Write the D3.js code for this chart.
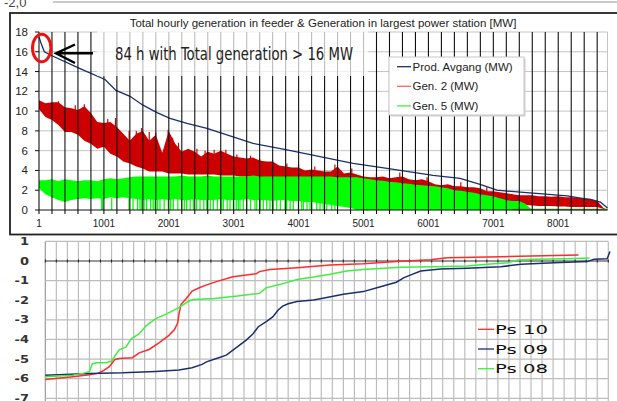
<!DOCTYPE html>
<html>
<head>
<meta charset="utf-8">
<script src="https://cdn.jsdelivr.net/npm/d3@7"></script>
<style>
body { margin: 0; background: #fff; }
svg { display: block; font-family: "Liberation Sans", Arial, sans-serif; }
</style>
</head>
<body>
<div id="chart"></div>
<script>
// ---- Top panel data (100 h bins) ----
const binHours = d3.range(0, 8800, 100).map(h => Math.max(h, 1)).concat([8760]);

const gen2High = [11.1,10.8,10.9,10.9,10.4,10.3,10.1,10.5,9.8,8.9,
  8.8,8.9,8.4,7.7,7.0,7.7,8.0,7.0,7.6,5.8,
  8.0,6.7,5.9,6.2,5.9,5.4,5.9,5.7,6.0,5.7,
  5.4,5.3,5.2,5.3,5.0,4.9,4.9,4.5,4.4,4.3,
  4.3,4.0,4.1,4.0,3.9,3.9,4.4,3.7,3.8,3.6,
  3.4,3.3,3.3,3.4,3.2,3.3,3.4,3.1,3.0,3.1,
  2.9,2.6,2.5,2.6,2.4,2.4,2.3,2.3,2.2,1.9,
  1.9,1.8,1.7,1.6,1.5,1.5,1.5,1.4,1.4,1.35,
  1.4,1.3,1.3,1.25,1.2,1.15,0.9,0.2,0.0];

const gen2Low = [10.2,9.4,9.1,8.6,7.9,7.9,7.6,7.0,6.7,6.2,
  6.4,5.7,5.4,4.9,4.7,4.4,4.2,3.9,3.9,3.9,
  3.7,3.7,3.7,3.6,3.6,3.6,3.6,3.6,3.5,3.5,
  3.5,3.4,3.4,3.4,3.3,3.3,3.3,3.2,3.2,3.1,
  3.1,3.0,3.0,3.0,2.9,2.9,2.8,2.8,2.7,2.7,
  2.6,2.6,2.5,2.5,2.4,2.3,2.0,2.3,2.2,2.1,
  2.0,1.9,1.8,1.7,1.7,1.6,1.5,1.4,1.3,1.1,
  1.0,0.9,0.7,0.6,0.5,0.5,0.45,0.4,0.4,0.4,
  0.35,0.35,0.3,0.3,0.3,0.3,0.3,0.1,0.0];

// single-hour peaks of Gen. 2 standing above the band
const gen2PeakHours = [300,560,700,1060,1180,1390,1500,1583,1700,1800,1990,2060,2150,2434,2560,
  2700,2880,3050,3260,3400,3600,3820,4000,4250,4560,4820,5200,5560,5980,6500,6900];
const gen2PeakValues = [11.0,10.6,10.7,9.2,9.3,8.0,8.0,8.3,7.9,7.8,8.1,7.3,6.8,6.2,6.0,
  6.1,6.1,5.6,5.5,5.2,5.0,4.7,4.6,4.4,4.6,4.2,3.7,3.8,3.3,2.8,2.3];

const gen5High = [3.0,3.0,3.1,2.9,3.1,3.0,2.9,3.0,3.0,2.9,
  3.1,3.2,3.1,3.2,3.3,3.4,3.4,3.4,3.4,3.4,
  3.4,3.4,3.5,3.4,3.4,3.4,3.5,3.4,3.4,3.4,
  3.4,3.4,3.4,3.5,3.4,3.4,3.4,3.4,3.4,3.4,
  3.4,3.4,3.4,3.4,3.4,3.4,3.3,3.3,3.3,3.3,
  3.2,3.1,3.0,2.95,2.85,2.8,2.7,2.65,2.55,2.5,
  2.45,2.4,2.3,2.2,2.0,1.95,1.85,1.75,1.6,1.5,
  1.4,1.2,1.0,0.9,0.9,0.6,0,0,0,0,
  0,0,0,0,0,0,0,0,0];

const gen5Low = [2.2,1.6,1.3,1.0,0.8,1.0,1.1,1.2,1.1,1.2,
  1.1,1.3,1.2,1.3,1.2,1.1,1.0,1.1,1.0,1.1,
  1.0,1.1,1.0,1.0,1.1,1.0,1.0,1.0,1.1,1.0,
  1.0,1.0,1.1,1.0,1.0,1.0,0.9,1.0,1.0,0.9,
  0.9,0.8,0.8,0.7,0.6,0.5,0.4,0.3,0.2,0,
  0,0,0,0,0,0,0,0,0,0,
  0,0,0,0,0,0,0,0,0,0,
  0,0,0,0,0,0,0,0,0,0,
  0,0,0,0,0,0,0,0,0];

// hours where Gen. 5 drops to zero
const gen5Dips = [967,982,1121,1388,1450,1520,1557,1583,1620,1660,1720,1760,1788,1830,1865,1930,
  1993,2030,2070,2140,2200,2240,2276,2330,2380,2430,2482,2540,2585,2640,2687,2750,2816,2841,
  2900,2944,2995,3040,3072,3098,3149,3201,3260,3329,3355,3410,3458,3509,3560,3610,3663,3720,
  3791,3817,3870,3920,3997,4048,4074,4130,4177,4203,4280,4331,4380,4434,4511,4560];

const totalHours = [1,41,84,201,633,1018,1187,1403,1603,1819,2019,2281,2589,2944,3298,3822,
  4331,4839,5363,5871,6072,6488,6796,7058,7613,8137,8537,8650,8760];
const totalValues = [17.5,16.7,16.0,15.6,14.3,13.2,12.1,11.5,10.6,9.84,9.27,8.77,8.26,7.5,6.74,6.07,
  5.39,4.72,4.21,3.71,3.5,3.2,2.6,2.0,1.7,1.42,1.0,0.8,0.2];

const topYTicks = [0,2,4,6,8,10,12,14,16,18];
const topXLabels = [1,1001,2001,3001,4001,5001,6001,7001,8001];
const topLegend = ["Prod. Avgang (MW)", "Gen. 2 (MW)", "Gen. 5 (MW)"];

// ---- Bottom panel data: [position, value] ----
const ps10 = [[0,-6.04],[2.5,-5.9],[4,-5.8],[4.75,-5.73],[5.2,-5.61],[5.8,-5.39],[6.3,-5.02],[6.7,-4.97],
  [7.9,-4.93],[8.5,-4.68],[9.4,-4.51],[10.3,-4.17],[11.2,-3.79],[11.7,-3.49],[12,-3.15],[12.1,-2.72],
  [12.3,-2.21],[12.7,-1.96],[13.3,-1.53],[14,-1.35],[14.5,-1.24],[15.5,-1.05],[17,-0.8],[19.1,-0.65],
  [19.4,-0.54],[20.35,-0.43],[22.8,-0.34],[25.8,-0.2],[28.8,-0.14],[31.8,-0.03],[34.9,0.06],
  [36.4,0.17],[41.25,0.22],[48.3,0.31]];
const ps09 = [[0,-5.83],[4,-5.73],[7,-5.7],[10,-5.63],[12.1,-5.56],[13.3,-5.44],[14.2,-5.27],[14.6,-5.14],
  [15.5,-4.97],[16.4,-4.8],[17,-4.54],[17.6,-4.29],[18.2,-4.03],[18.8,-3.72],[19.3,-3.35],[20.05,-3.08],
  [20.6,-2.85],[21.1,-2.5],[21.5,-2.3],[22,-2.18],[22.8,-2.07],[24.3,-1.99],[25.5,-1.86],[27,-1.7],
  [28.8,-1.56],[30.2,-1.34],[31.8,-1.08],[32.5,-0.85],[33,-0.73],[34,-0.51],[35.8,-0.41],[38.2,-0.37],
  [41.25,-0.29],[43.1,-0.17],[46.1,-0.085],[49.1,-0.03],[49.7,0.085],[50.9,0.12],[51.15,0.48]];
const ps08 = [[0,-5.9],[2.5,-5.82],[3.4,-5.73],[4,-5.63],[4.25,-5.25],[4.6,-5.19],[5.5,-5.19],[6,-5.1],
  [6.7,-4.52],[7.3,-4.39],[7.8,-3.95],[8.5,-3.72],[9.1,-3.32],[10,-2.94],[10.9,-2.72],[12.1,-2.38],
  [13,-2.04],[13.4,-1.96],[15.3,-1.91],[17.4,-1.79],[19.4,-1.65],[20,-1.37],[21.3,-1.19],[22.8,-0.94],
  [24.3,-0.82],[25.8,-0.68],[27.3,-0.51],[28.8,-0.43],[32.2,-0.32],[35.2,-0.29],[38.2,-0.26],
  [40,-0.17],[41.9,-0.085],[42.8,0.05],[44.3,0.085],[47.3,0.12],[49.3,0.15]];

const bottomYTicks = [1,0,-1,-2,-3,-4,-5,-6,-7];
const bottomSeries = [
  { name: "Ps 10", data: ps10, color: "#ff2a2a" },
  { name: "Ps 09", data: ps09, color: "#1b2f6e" },
  { name: "Ps 08", data: ps08, color: "#3fef3f" }
];

const width = 617, height = 401;
const svg = d3.select("#chart").append("svg")
  .attr("width", width).attr("height", height);

// leftover of the chart above
svg.append("text").attr("x", 4).attr("y", 7)
  .attr("font-size", 13).attr("fill", "#444").text("-2,0");
svg.append("line").attr("x1", 53).attr("x2", width).attr("y1", 2).attr("y2", 2)
  .attr("stroke", "#b8b8b8").attr("stroke-width", 1.5);

// ================= TOP PANEL =================
const x = d3.scaleLinear().domain([1, 8760]).range([39, 607.5]);
const y = d3.scaleLinear().domain([0, 18]).range([210, 32]);

svg.append("rect").attr("x", 10).attr("y", 13).attr("width", 620).attr("height", 221.5)
  .attr("fill", "#fff").attr("stroke", "#222").attr("stroke-width", 1.8);

svg.append("text").attr("x", 323).attr("y", 27).attr("text-anchor", "middle")
  .attr("font-size", 11.5).attr("fill", "#222")
  .text("Total hourly generation in feeder & Generation in largest power station [MW]");

const topPanel = svg.append("g");

topPanel.selectAll(".hgrid").data(topYTicks.slice(1)).enter().append("line")
  .attr("x1", 39).attr("x2", 607.5)
  .attr("y1", d => y(d)).attr("y2", d => y(d))
  .attr("stroke", "#c4c4c4").attr("stroke-width", 1);
topPanel.append("line").attr("x1", 607.5).attr("x2", 607.5).attr("y1", y(18)).attr("y2", y(0))
  .attr("stroke", "#c4c4c4");

const band = (lo, hi) => d3.area()
  .x((d, i) => x(binHours[i]))
  .y0((d, i) => y(lo[i]))
  .y1((d, i) => y(hi[i]));

topPanel.append("path").datum(gen2High).attr("d", band(gen2Low, gen2High)).attr("fill", "#cc0000");
topPanel.selectAll(".peak").data(gen2PeakHours).enter().append("line")
  .attr("x1", d => x(d)).attr("x2", d => x(d))
  .attr("y1", (d, i) => y(gen2PeakValues[i])).attr("y2", (d, i) => y(gen2PeakValues[i] - 1.6))
  .attr("stroke", "#cc0000").attr("stroke-width", 1.2);
topPanel.append("path").datum(gen5High).attr("d", band(gen5Low, gen5High)).attr("fill", "#00ff00");
topPanel.selectAll(".dip").data(gen5Dips).enter().append("line")
  .attr("x1", d => x(d)).attr("x2", d => x(d))
  .attr("y1", y(0)).attr("y2", y(1.2))
  .attr("stroke", "#00ff00").attr("stroke-width", 1.3);
topPanel.append("line").attr("x1", x(7300)).attr("x2", x(8760)).attr("y1", y(0) - 0.5).attr("y2", y(0) - 0.5)
  .attr("stroke", "#4c9a2a").attr("stroke-width", 1.5);

topPanel.append("path").datum(totalValues)
  .attr("d", d3.line().x((d, i) => x(totalHours[i])).y(d => y(d)))
  .attr("fill", "none").attr("stroke", "#1b2f6e").attr("stroke-width", 1.3);

// black vertical lines every 200 h, with ticks below the axis
topPanel.selectAll(".vline").data(d3.range(1, 8760, 200)).enter().append("line")
  .attr("x1", d => x(d)).attr("x2", d => x(d))
  .attr("y1", y(18)).attr("y2", y(0) + 4)
  .attr("stroke", "#111").attr("stroke-width", 1.1);
topPanel.append("line").attr("x1", 39).attr("x2", 607.5).attr("y1", y(0)).attr("y2", y(0))
  .attr("stroke", "#111");
topPanel.selectAll(".ytick").data(topYTicks).enter().append("line")
  .attr("x1", 35).attr("x2", 39).attr("y1", d => y(d)).attr("y2", d => y(d))
  .attr("stroke", "#111");

topPanel.selectAll(".ylab").data(topYTicks).enter().append("text")
  .attr("x", 28).attr("y", d => y(d)).attr("dy", "0.35em")
  .attr("text-anchor", "end").attr("font-size", 11.5).attr("fill", "#222")
  .text(d => d);
topPanel.selectAll(".xlab").data(topXLabels).enter().append("text")
  .attr("x", d => x(d)).attr("y", 223).attr("dy", "0.35em")
  .attr("text-anchor", "middle").attr("font-size", 10).attr("fill", "#222")
  .text(d => d);

// annotation
topPanel.append("rect").attr("x", 97).attr("y", 31).attr("width", 271).attr("height", 45)
  .attr("fill", "#fff").attr("opacity", 0.72);
topPanel.append("text").attr("x", 115).attr("y", 60)
  .attr("font-family", "'Liberation Sans Narrow', 'DejaVu Sans Condensed', sans-serif")
  .attr("font-size", 18).attr("fill", "#222")
  .attr("textLength", 238).attr("lengthAdjust", "spacingAndGlyphs")
  .text("84 h with Total generation > 16 MW");
topPanel.append("path").attr("d", "M93,53.3H56M75,44.5L56,53.3L75,63")
  .attr("fill", "none").attr("stroke", "#000").attr("stroke-width", 2.4);
topPanel.append("ellipse").attr("cx", 41.7).attr("cy", 48).attr("rx", 9.2).attr("ry", 13.8)
  .attr("fill", "none").attr("stroke", "#ee1111").attr("stroke-width", 3);

// legend
const lg = topPanel.append("g");
lg.append("rect").attr("x", 390.5).attr("y", 58.5).attr("width", 135).attr("height", 58)
  .attr("fill", "#d0d0d0");
lg.append("rect").attr("x", 389).attr("y", 57).attr("width", 135).attr("height", 58)
  .attr("fill", "#fff").attr("stroke", "#c8c8c8");
const legendColors = ["#1b2f6e", "#ff6060", "#44ee44"];
topLegend.forEach((name, i) => {
  const cy = 66.7 + i * 19.6;
  lg.append("line").attr("x1", 397).attr("x2", 411).attr("y1", cy).attr("y2", cy)
    .attr("stroke", legendColors[i]).attr("stroke-width", 1.3);
  lg.append("text").attr("x", 412.5).attr("y", cy).attr("dy", "0.35em")
    .attr("font-size", 11.5).attr("fill", "#222").text(name);
});

// ================= BOTTOM PANEL =================
const bx = d3.scaleLinear().domain([0, 51]).range([45.3, 608.3]);
const by = d3.scaleLinear().domain([-7, 1]).range([398.3, 241.4]);
const bottomPanel = svg.append("g");

bottomPanel.selectAll(".bv").data(d3.range(0, 52)).enter().append("line")
  .attr("x1", d => bx(d)).attr("x2", d => bx(d)).attr("y1", by(1)).attr("y2", height)
  .attr("stroke", d => d === 0 ? "#9a9a9a" : "#bdbdbd").attr("stroke-width", 1.2);
bottomPanel.selectAll(".bh").data(bottomYTicks.filter(d => d !== 0)).enter().append("line")
  .attr("x1", bx(0)).attr("x2", bx(51)).attr("y1", d => by(d)).attr("y2", d => by(d))
  .attr("stroke", "#bdbdbd").attr("stroke-width", 1.2);
bottomPanel.append("line").attr("x1", bx(0)).attr("x2", bx(51)).attr("y1", by(0)).attr("y2", by(0))
  .attr("stroke", "#333").attr("stroke-width", 1);
bottomPanel.selectAll(".bt").data(d3.range(0, 52)).enter().append("line")
  .attr("x1", d => bx(d)).attr("x2", d => bx(d)).attr("y1", by(0) - 1.5).attr("y2", by(0) + 1.5)
  .attr("stroke", "#222");

bottomPanel.selectAll(".bylab").data(bottomYTicks).enter().append("text")
  .attr("x", 29).attr("y", d => by(d)).attr("dy", "0.36em")
  .attr("text-anchor", "end").attr("font-family", "'DejaVu Sans', sans-serif")
  .attr("font-size", 10).attr("font-weight", "bold").attr("fill", "#333")
  .text(d => d)
  .each(function() {
    const w = this.getComputedTextLength();
    d3.select(this).attr("textLength", w * 1.3).attr("lengthAdjust", "spacingAndGlyphs");
  });

const bline = d3.line().x(d => bx(d[0])).y(d => by(d[1]));
bottomPanel.selectAll(".ser").data(bottomSeries).enter().append("path")
  .attr("d", d => bline(d.data))
  .attr("fill", "none").attr("stroke", d => d.color).attr("stroke-width", 1.5);

bottomSeries.forEach((s, i) => {
  const cy = 329.3 + i * 19.7;
  bottomPanel.append("line").attr("x1", 478).attr("x2", 494).attr("y1", cy).attr("y2", cy)
    .attr("stroke", s.color).attr("stroke-width", 1.3);
  bottomPanel.append("text").attr("x", 495).attr("y", cy).attr("dy", "0.36em")
    .attr("font-family", "'DejaVu Sans', sans-serif").attr("font-size", 12.5)
    .attr("fill", "#111").attr("textLength", 53).attr("lengthAdjust", "spacingAndGlyphs")
    .text(s.name);
});
</script>
</body>
</html>
